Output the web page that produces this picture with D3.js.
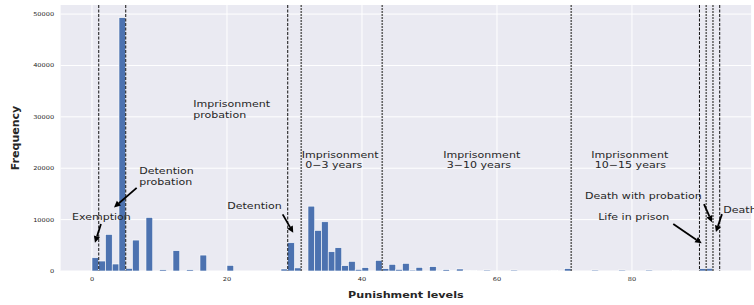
<!DOCTYPE html>
<html>
<head>
<meta charset="utf-8">
<script src="https://cdn.jsdelivr.net/npm/d3@7/dist/d3.min.js"></script>
<style>
  body { margin: 0; background: #fff; }
  svg { display: block; font-family: 'DejaVu Sans', sans-serif; }
</style>
</head>
<body>
<svg id="chart" width="754" height="305"></svg>
<script>
// histogram bins (left edge of each unit-wide bin) and their counts
const levels = [0, 1, 2, 3, 4, 5, 6, 8, 10, 12, 14, 16, 20, 28, 29, 30,
  32, 33, 34, 35, 36, 37, 38, 39, 40, 42, 43, 44, 45, 46, 47, 48, 50, 51, 52,
  53, 54, 55, 56, 58, 62, 68, 70, 74, 78, 82, 86, 90, 91];
const counts = [2580, 1940, 7120, 1360, 49300, 520, 6020, 10420, 250, 3950, 250, 3100, 1100, 390, 5500, 600,
  12620, 7900, 9580, 3750, 4530, 1040, 1880, 320, 650, 2070, 450, 1300, 320, 1490, 190, 710, 840, 130, 260,
  60, 390, 60, 60, 190, 190, 60, 450, 190, 190, 190, 60, 450, 520];
const binWidth = 1;
const lastLevel = 93;

const xTicks = [0, 20, 40, 60, 80];
const yTicks = [0, 10000, 20000, 30000, 40000, 50000];

// category boundaries
const boundaryLevels = [1, 5, 29, 31, 43, 71, 90, 91, 92, 93];
const boundaryDark = [true, true, true, false, false, false, true, false, false, true];

// annotations, anchored in data units (level, frequency)
const noteTexts = [
  ['Imprisonment', 'probation'],
  ['Detention', 'probation'],
  ['Exemption'],
  ['Detention'],
  ['Imprisonment', ' 0\u22123 years'],
  ['Imprisonment', ' 3\u221210 years'],
  ['Imprisonment', ' 10\u221215 years'],
  ['Death with probation'],
  ['Life in prison'],
  ['Death']
];
const noteAt = [[15.0, 31840], [7.0, 18780], [-2.96, 9900], [20.04, 11980], [31.07, 22000],
  [52.04, 22040], [73.97, 22040], [73.04, 13940], [75.0, 9900], [93.53, 11360]];
const arrowFrom = [null, [6.62, 16170], [1.33, 9130], [28.25, 11010], null,
  null, null, [90.67, 13010], [86.12, 9130], [93.33, 11070]];
const arrowTo = [null, [3.26, 12370], [0.44, 5500], [29.82, 7440], null,
  null, null, [91.85, 9510], [90.33, 5380], [92.44, 7570]];

const margin = {left: 60.6, top: 5, right: 2.9, bottom: 34};
const W = 754, H = 305;
const width = W - margin.left - margin.right;
const height = H - margin.top - margin.bottom;
const stretch = 1.2;
const ink = '#262626';

const svg = d3.select('#chart');
const pad = (lastLevel - 0) * 0.05;
const sx = d3.scaleLinear().domain([0 - pad, lastLevel + pad]).range([0, width]);
const sy = d3.scaleLinear().domain([0, d3.max(counts) * 1.05]).range([height, 0]);

const g = svg.append('g').attr('transform', `translate(${margin.left},${margin.top})`);

g.append('rect')
  .attr('width', width)
  .attr('height', height)
  .attr('fill', '#EAEAF2');

// grid
g.selectAll('line.gx').data(xTicks).enter().append('line')
  .attr('x1', d => sx(d)).attr('x2', d => sx(d))
  .attr('y1', 0).attr('y2', height)
  .attr('stroke', '#fff').attr('stroke-width', 1);
g.selectAll('line.gy').data(yTicks).enter().append('line')
  .attr('y1', d => sy(d)).attr('y2', d => sy(d))
  .attr('x1', 0).attr('x2', width)
  .attr('stroke', '#fff').attr('stroke-width', 1);

function stretchedText(parent, x, y, lines, size, anchor, weight, gap) {
  const t = parent.append('text')
    .attr('transform', `translate(${x},${y}) scale(${stretch},1)`)
    .attr('font-size', size)
    .attr('font-weight', weight || 'normal')
    .attr('text-anchor', anchor)
    .attr('fill', ink)
    .style('white-space', 'pre');
  lines.forEach((s, i) => {
    t.append('tspan').attr('x', 0).attr('y', i * (gap || 0)).text(s);
  });
  return t;
}

// tick labels
xTicks.forEach(d => stretchedText(g, sx(d), height + 9.5, [String(d)], 5.5, 'middle'));
yTicks.forEach(d => stretchedText(g, -6.5, sy(d) + 2, [String(d)], 5.5, 'end'));

// bars
g.selectAll('rect.bar').data(levels).enter().append('rect')
  .attr('class', 'bar')
  .attr('x', d => sx(d))
  .attr('width', d => sx(d + binWidth) - sx(d))
  .attr('y', (d, i) => sy(counts[i]))
  .attr('height', (d, i) => height - sy(counts[i]))
  .attr('fill', '#4C72B0')
  .attr('stroke', '#fff')
  .attr('stroke-width', 0.6);

// boundaries
g.selectAll('line.bound').data(boundaryLevels).enter().append('line')
  .attr('x1', d => sx(d)).attr('x2', d => sx(d))
  .attr('y1', 0).attr('y2', height)
  .attr('stroke', (d, i) => boundaryDark[i] ? '#111' : '#666')
  .attr('stroke-width', (d, i) => boundaryDark[i] ? 1 : 1.6)
  .attr('stroke-dasharray', (d, i) => boundaryDark[i] ? '3,1.5' : '2,1');

// annotations
noteTexts.forEach((lines, i) => {
  stretchedText(g, sx(noteAt[i][0]), sy(noteAt[i][1]), lines, 9.2, 'start', 'normal', 10.5);
  if (!arrowFrom[i]) return;
  const x1 = sx(arrowFrom[i][0]), y1 = sy(arrowFrom[i][1]);
  const x2 = sx(arrowTo[i][0]), y2 = sy(arrowTo[i][1]);
  const a = Math.atan2(y2 - y1, x2 - x1);
  const hl = 6.5, hw = 3.2;
  const bx = x2 - hl * Math.cos(a), by = y2 - hl * Math.sin(a);
  g.append('line')
    .attr('x1', x1).attr('y1', y1).attr('x2', bx).attr('y2', by)
    .attr('stroke', '#000').attr('stroke-width', 1.8);
  g.append('path')
    .attr('d', `M${x2},${y2}L${bx + hw * Math.sin(a)},${by - hw * Math.cos(a)}L${bx - hw * Math.sin(a)},${by + hw * Math.cos(a)}Z`)
    .attr('fill', '#000');
});

// axis titles
stretchedText(svg, margin.left + width / 2, 298, ['Punishment levels'], 9.3, 'middle', 'bold');
svg.append('text')
  .attr('transform', `translate(19,${margin.top + height / 2}) rotate(-90)`)
  .attr('text-anchor', 'middle')
  .attr('font-size', 11)
  .attr('font-weight', 'bold')
  .attr('fill', ink)
  .text('Frequency');
</script>
</body>
</html>
